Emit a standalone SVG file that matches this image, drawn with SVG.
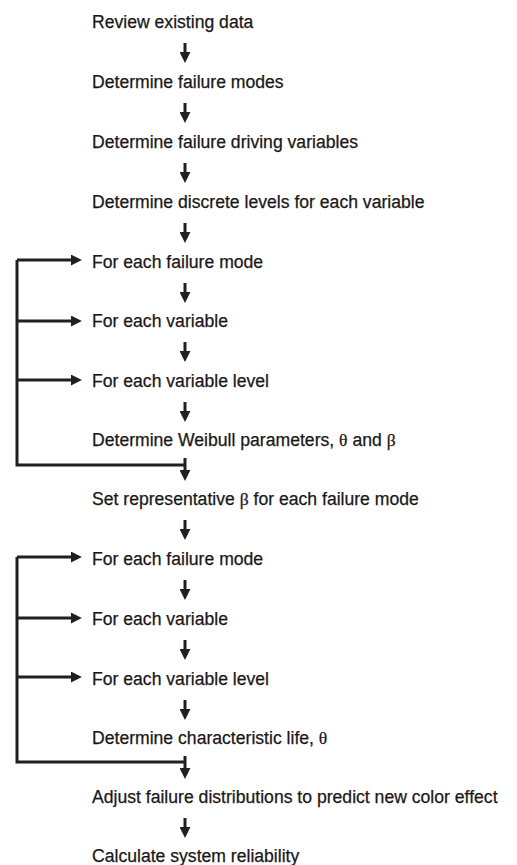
<svg xmlns="http://www.w3.org/2000/svg" width="517" height="865" viewBox="0 0 517 865">
<style>
  .t { font-family: "Liberation Sans", Arial, sans-serif; font-size: 17.6px; fill: #1a1718; stroke: #1a1718; stroke-width: 0.25; }
  .g { font-family: "Liberation Serif", "Times New Roman", serif; }
  .c { stroke: #231f20; stroke-width: 3; fill: none; }
  .a { stroke: #231f20; stroke-width: 3; fill: none; marker-end: url(#head); }
</style>
<defs>
  <marker id="head" viewBox="0 0 10 10" refX="1" refY="5" markerWidth="11" markerHeight="11" markerUnits="userSpaceOnUse" orient="auto">
    <path d="M0,0 L10,5 L0,10 z" fill="#231f20"/>
  </marker>
</defs>
<rect width="517" height="865" fill="#ffffff"/>

<g id="n1"><text class="t" x="92" y="28">Review existing data</text></g>
<g id="n2"><text class="t" x="92" y="88">Determine failure modes</text></g>
<g id="n3"><text class="t" x="92" y="148">Determine failure driving variables</text></g>
<g id="n4"><text class="t" x="92" y="208">Determine discrete levels for each variable</text></g>
<g id="n5"><text class="t" x="92" y="268">For each failure mode</text></g>
<g id="n6"><text class="t" x="92" y="327">For each variable</text></g>
<g id="n7"><text class="t" x="92" y="387">For each variable level</text></g>
<g id="n8"><text class="t" x="92" y="446">Determine Weibull parameters, <tspan class="g">θ</tspan> and <tspan class="g">β</tspan></text></g>
<g id="n9"><text class="t" x="92" y="505">Set representative <tspan class="g">β</tspan> for each failure mode</text></g>
<g id="n10"><text class="t" x="92" y="565">For each failure mode</text></g>
<g id="n11"><text class="t" x="92" y="625">For each variable</text></g>
<g id="n12"><text class="t" x="92" y="685">For each variable level</text></g>
<g id="n13"><text class="t" x="92" y="744">Determine characteristic life, <tspan class="g">θ</tspan></text></g>
<g id="n14"><text class="t" x="92" y="803">Adjust failure distributions to predict new color effect</text></g>
<g id="n15"><text class="t" x="92" y="862">Calculate system reliability</text></g>

<g id="connectors">
  <!-- down arrows -->
  <line class="a" x1="185" y1="43" x2="185" y2="53"/>
  <line class="a" x1="185" y1="103" x2="185" y2="113"/>
  <line class="a" x1="185" y1="163" x2="185" y2="173"/>
  <line class="a" x1="185" y1="223" x2="185" y2="233"/>
  <line class="a" x1="185" y1="283" x2="185" y2="293"/>
  <line class="a" x1="185" y1="342" x2="185" y2="352"/>
  <line class="a" x1="185" y1="402" x2="185" y2="412"/>
  <line class="a" x1="185" y1="458" x2="185" y2="471"/>
  <line class="a" x1="185" y1="520" x2="185" y2="530"/>
  <line class="a" x1="185" y1="580" x2="185" y2="590"/>
  <line class="a" x1="185" y1="640" x2="185" y2="650"/>
  <line class="a" x1="185" y1="700" x2="185" y2="710"/>
  <line class="a" x1="185" y1="756" x2="185" y2="769"/>
  <line class="a" x1="185" y1="818" x2="185" y2="828"/>

  <!-- loop 1 -->
  <path class="c" d="M185,465 H17 V260"/>
  <line class="a" x1="17" y1="260" x2="72" y2="260"/>
  <line class="a" x1="17" y1="321" x2="72" y2="321"/>
  <line class="a" x1="17" y1="380" x2="72" y2="380"/>

  <!-- loop 2 -->
  <path class="c" d="M185,762 H17 V557"/>
  <line class="a" x1="17" y1="557" x2="72" y2="557"/>
  <line class="a" x1="17" y1="618" x2="72" y2="618"/>
  <line class="a" x1="17" y1="677" x2="72" y2="677"/>
</g>
</svg>
